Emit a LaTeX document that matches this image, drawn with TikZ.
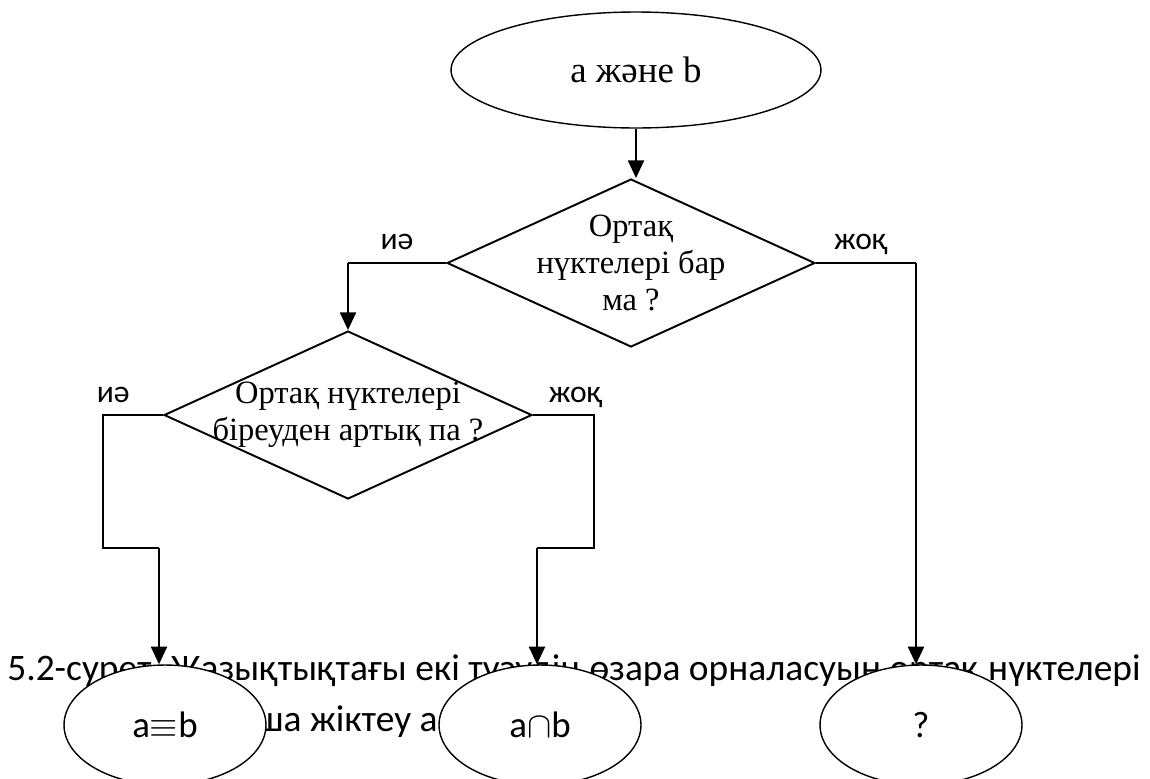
\documentclass[tikz,border=0pt]{standalone}
\usepackage{fontspec}
\setmainfont{Liberation Serif}
\newfontfamily\capfont{Carlito}
\usetikzlibrary{shapes.geometric,arrows.meta}

\begin{document}
\begin{tikzpicture}[x=0.02cm, y=-0.02cm,
	oval/.style={draw, ellipse, line width=0.8pt, fill=white, inner sep=0pt},
	query/.style={draw, diamond, line width=1.1pt, fill=white, inner sep=0pt, minimum width=7.36cm, minimum height=3.36cm},
	qtext/.style={align=center, inner sep=0pt, font=\fontsize{18.5}{21}\selectfont},
	leaf/.style={oval, minimum width=4.04cm, minimum height=2.4cm, font=\capfont\fontsize{21}{24}\selectfont},
	arr/.style={line width=1.4pt, -{Triangle[width=9pt,length=10pt]}},
	link/.style={line width=0.7pt},
	capline/.style={anchor=base west, inner sep=0pt, font=\capfont\fontsize{21.3}{25}\selectfont},
	ans/.style={font=\capfont\fontsize{18}{20}\selectfont, inner sep=0pt, anchor=base}]
	\useasboundingbox (0,0) rectangle (1150,778);

	\node[capline] (cap1) at (7,680) {5.2-сурет. Жазықтықтағы екі түзудің өзара орналасуын ортақ нүктелері};
	\node[capline] (cap2) at (256,731) {ша жіктеу а};

	\node[oval, minimum width=7.4cm, minimum height=2.32cm, font=\fontsize{21}{24}\selectfont] (start) at (636,70) {a және b};
	\node[query, label={[qtext]center:{Ортақ\\нүктелері бар\\ма ?}}] (q1) at (631,263) {};
	\node[query, label={[qtext]center:{Ортақ нүктелері\\біреуден артық па ?}}] (q2) at (348,415) {};
	\node[leaf] (same)  at (165,725) {a$\equiv$b};
	\node[leaf] (cross) at (540,725) {a$\cap$b};
	\node[leaf] (none)  at (921,725) {?};

	\coordinate (k1) at (q2.north |- q1.west);
	\coordinate (k2) at (916,263);
	\coordinate (k3) at (103,415);
	\coordinate (k4) at (103,548);
	\coordinate (k5) at (159,548);
	\coordinate (k6) at (594,415);
	\coordinate (k7) at (594,548);
	\coordinate (k8) at (537,548);

	\draw[arr] (start.south) -- (start.south |- q1.north);
	\draw[link] (q1.west) -- node[ans, pos=.5, yshift=7.5pt] {иә} (k1);
	\draw[arr] (k1) -- (q2.north);
	\draw[link] (q1.east) -- node[ans, pos=.45, yshift=7.5pt] {жоқ} (k2);
	\draw[arr] (k2) -- (k2 |- none.north);
	\draw[link] (q2.west) -- node[ans, pos=.83, yshift=7pt] {иә} (k3) -- (k4) -- (k5);
	\draw[arr] (k5) -- (k5 |- same.north);
	\draw[link] (q2.east) -- node[ans, pos=.7, yshift=7pt] {жоқ} (k6) -- (k7) -- (k8);
	\draw[arr] (k8) -- (k8 |- cross.north);
\end{tikzpicture}
\end{document}
